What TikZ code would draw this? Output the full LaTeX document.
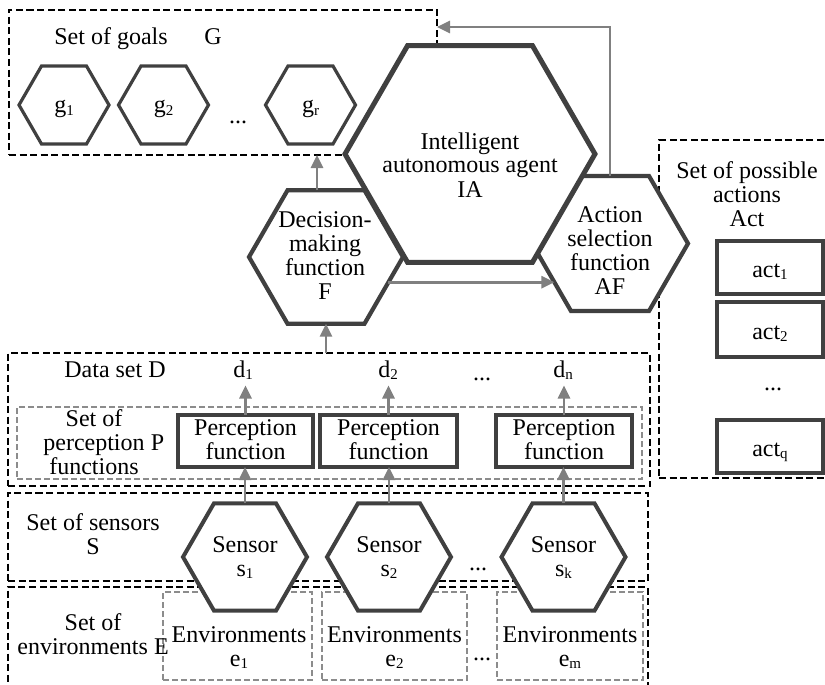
\documentclass[tikz,border=0pt]{standalone}
\usepackage{fontspec}
\setmainfont{Liberation Serif}
\usetikzlibrary{shapes.geometric,arrows.meta,calc}
\definecolor{hexline}{HTML}{404040}
\definecolor{arrowgray}{HTML}{808080}
\definecolor{dashgray}{HTML}{8C8C8C}
% centred block of lines whose reference point is the first baseline
\newcommand{\lines}[1]{\begin{tabular}[t]{@{}c@{}}#1\end{tabular}}
% lowered index in a smaller size
\newcommand{\idx}[1]{\raisebox{-2.5pt}{\fontsize{15}{15}\selectfont #1}}
\begin{document}
\begin{tikzpicture}[x=1pt,y=-1pt,
  every node/.style={font=\fontsize{24}{24}\selectfont, inner sep=0pt},
  txt/.style={anchor=base},
  blackdash/.style={rectangle, draw=black, line width=1.5pt, dash pattern=on 7pt off 3.5pt, outer sep=0pt},
  graydash/.style={rectangle, draw=dashgray, line width=1.3pt, dash pattern=on 6pt off 3pt, outer sep=0pt},
  hexnode/.style={regular polygon, regular polygon sides=6, draw=hexline, fill=white, outer sep=0pt},
  funcbox/.style={rectangle, draw=hexline, fill=white, line width=3.8pt, outer sep=0pt},
  actbox/.style={rectangle, draw=hexline, fill=white, line width=3.5pt, outer sep=0pt},
  arr/.style={draw=arrowgray, line width=2.7pt, -{Triangle[length=13pt,width=12pt]}},
  dlabel/.style={anchor=base, outer sep=6pt}
]
\useasboundingbox (0,0) rectangle (825,685);
\clip (0,0) rectangle (825,685);

% ---- dashed groupings ----
\node[blackdash, minimum width=428pt, minimum height=145pt] (goals) at (223,82.5) {};
\node[blackdash, minimum width=181pt, minimum height=338pt] (actset) at (749.5,309) {};
\node[blackdash, minimum width=642pt, minimum height=133pt] (data) at (329,419.5) {};
\node[graydash, minimum width=625pt, minimum height=72pt] (percset) at (329.5,443) {};
\node[blackdash, minimum width=640pt, minimum height=88pt] (sensset) at (328,537) {};
\node[blackdash, minimum width=640pt, minimum height=113pt] (envset) at (328,643.5) {};
\node[graydash, minimum width=149pt, minimum height=88pt] (env1) at (237.5,636) {};
\node[graydash, minimum width=145pt, minimum height=88pt] (env2) at (394.5,636) {};
\node[graydash, minimum width=146pt, minimum height=88pt] (env3) at (570,636) {};

% ---- perception functions and actions ----
\node[funcbox, minimum width=135pt, minimum height=52pt] (pf1) at (245.5,441) {};
\node[funcbox, minimum width=137pt, minimum height=52pt] (pf2) at (388.5,441) {};
\node[funcbox, minimum width=136pt, minimum height=52pt] (pf3) at (564,441) {};
\node[actbox, minimum width=106pt, minimum height=53pt] (act1) at (770,267.5) {};
\node[actbox, minimum width=106pt, minimum height=55pt] (act2) at (770,329.5) {};
\node[actbox, minimum width=106pt, minimum height=53pt] (actq) at (770,446.5) {};

% ---- goals ----
\node[hexnode, line width=3.2pt, minimum size=90pt] (g1) at (64,105) {};
\node[hexnode, line width=3.2pt, minimum size=90pt] (g2) at (163.5,105) {};
\node[hexnode, line width=3.2pt, minimum size=90pt] (gr) at (310.5,105) {};

% ---- agent functions and the agent ----
\node[hexnode, line width=4.2pt, minimum size=154pt] (F) at (326,257) {};
\node[hexnode, line width=4.2pt, minimum size=156pt] (AF) at (610,243.5) {};
\node[hexnode, line width=5pt, minimum size=250pt] (IA) at (470,154) {};

% ---- sensors ----
\node[hexnode, line width=4pt, minimum size=124pt] (s1) at (245,557) {};
\node[hexnode, line width=4pt, minimum size=124pt] (s2) at (389,557) {};
\node[hexnode, line width=4pt, minimum size=124pt] (sk) at (563.5,557) {};

% ---- texts ----
\node[txt] at (111,45) {Set of goals};
\node[txt] at (213,45) {G};
\node[txt] at (64,113) {g\idx{1}};
\node[txt] at (163.5,113) {g\idx{2}};
\node[txt] at (310.5,113) {g\idx{r}};
\node[txt] at (238,123) {...};
\node[txt] at (470,149) {\lines{Intelligent\\autonomous agent\\IA}};
\node[txt] at (325,227) {\lines{Decision-\\making\\function\\F}};
\node[txt] at (610,222) {\lines{Action\\selection\\function\\AF}};
\node[txt] at (747,178) {\lines{Set of possible\\actions\\Act}};
\node[txt] at (770,277) {act\idx{1}};
\node[txt] at (770,339) {act\idx{2}};
\node[txt] at (773,390) {...};
\node[txt] at (770,456) {act\idx{q}};
\node[txt] at (115,377) {Data set D};
\node[dlabel] (d1) at (243,377) {d\idx{1}};
\node[dlabel] (d2) at (388,377) {d\idx{2}};
\node[txt] at (482,380) {...};
\node[dlabel] (dn) at (563,377) {d\idx{n}};
\node[txt] at (94,426) {\lines{Set of\\perception\\functions}};
\node[txt] at (157.5,450) {P};
\node[txt] at (245.5,435) {\lines{Perception\\function}};
\node[txt] at (388.5,435) {\lines{Perception\\function}};
\node[txt] at (564,435) {\lines{Perception\\function}};
\node[txt] at (93,530) {\lines{Set of sensors\\S}};
\node[txt] at (245,552) {\lines{Sensor\\s\idx{1}}};
\node[txt] at (389,552) {\lines{Sensor\\s\idx{2}}};
\node[txt] at (563.5,552) {\lines{Sensor\\s\idx{k}}};
\node[txt] at (478,570) {...};
\node[txt] at (93,630) {\lines{Set of\\environments E}};
\node[txt] at (239,642) {\lines{Environments\\e\idx{1}}};
\node[txt] at (394.5,642) {\lines{Environments\\e\idx{2}}};
\node[txt] at (570,642) {\lines{Environments\\e\idx{m}}};
\node[txt] at (482,660) {...};

% ---- connectors ----
\draw[arr] ([xshift=-9pt]F.north) -- ([xshift=-9pt]F.north |- goals.south);
\draw[arr] (F.south |- data.north) -- (F.south);
\draw[arr] (F.-22) -- (F.-22 -| AF.215);
\draw[arr] (AF.north) |- ([yshift=-17pt]goals.north east);
\draw[arr] (pf1.north) -- (pf1.north |- d1.south);
\draw[arr] (pf2.north) -- (pf2.north |- d2.south);
\draw[arr] (pf3.north) -- (pf3.north |- dn.south);
\draw[arr] (s1.north) -- (s1.north |- pf1.south);
\draw[arr] (s2.north) -- (s2.north |- pf2.south);
\draw[arr] (sk.north) -- (sk.north |- pf3.south);
\end{tikzpicture}
\end{document}
